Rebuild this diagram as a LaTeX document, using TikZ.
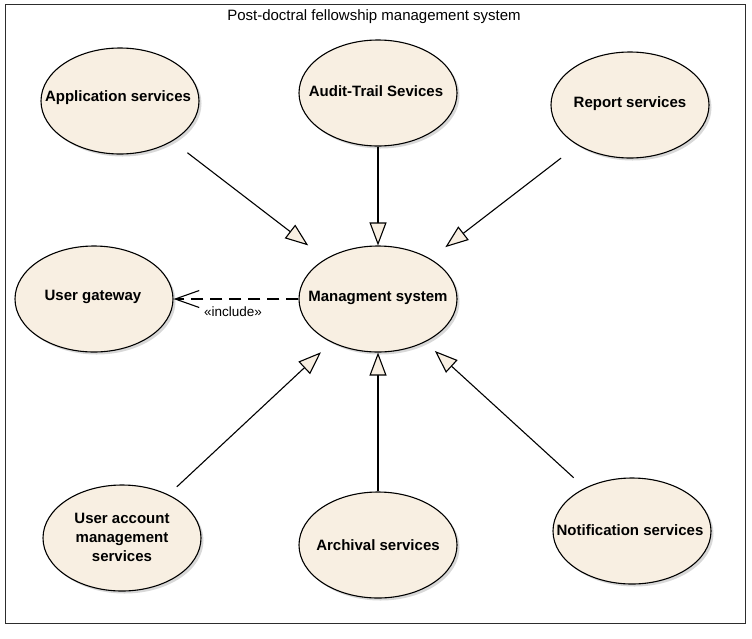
\documentclass[tikz,border=0pt]{standalone}
\usepackage{fontspec}
\setmainfont{Liberation Sans}
\usetikzlibrary{arrows.meta,shapes.geometric,calc,shadows}
\definecolor{ucfill}{RGB}{248,239,226}
\definecolor{framecol}{RGB}{45,45,45}
\begin{document}
\begin{tikzpicture}[x=1pt,y=-1pt,
  uc/.style={ellipse,draw=black,line width=1.1pt,fill=ucfill,minimum width=158pt,minimum height=106pt,inner sep=0pt,
    drop shadow={shadow xshift=2.5pt,shadow yshift=-2.5pt,fill=black!30}},
  uctext/.style={font=\fontsize{15}{19}\selectfont\bfseries,align=center,inner sep=0pt},
  gen/.style={line width=1.1pt,-{Triangle[length=23pt,width=17pt,fill=ucfill,line width=1.1pt]}},
  incl/.style={line width=1.1pt,dash pattern=on 12pt off 7pt,-{Straight Barb[length=24pt,width=17pt,line width=1.1pt]}},
  plaintext/.style={inner sep=0pt}]
\useasboundingbox (0,0) rectangle (752,638);
\fill[white] (0,0) rectangle (752,638);
% system frame
\node[draw=framecol,line width=1.3pt,minimum width=740pt,minimum height=619pt,anchor=north west,inner sep=0pt] (sys) at (5,4) {};
\node[plaintext,font=\fontsize{15}{17}\selectfont] (title) at (374,17) {Post-doctral fellowship management system};
% use cases
\node[uc] (app) at (120,101) {};
\node[uc] (audit) at (378,93) {};
\node[uc] (report) at (630,105) {};
\node[uc] (gw) at (94,299) {};
\node[uc] (mgmt) at (378,299) {};
\node[uc] (uam) at (122,538) {};
\node[uc] (arch) at (378,545) {};
\node[uc] (notif) at (632,531) {};
\node[uctext] (app-t) at (118,98) {Application services};
\node[uctext] (audit-t) at (376,91) {Audit-Trail Sevices};
\node[uctext] (report-t) at (630,104) {Report services};
\node[uctext] (gw-t) at (93,297) {User gateway};
\node[uctext] (mgmt-t) at (378,298) {Managment system};
\node[uctext] (uam-t) at (122,537) {User account\\management\\services};
\node[uctext] (arch-t) at (378,545) {Archival services};
\node[uctext] (notif-t) at (630,530) {Notification services};
% generalizations
\draw[gen] ($(app)!85pt!(mgmt)$) -- ($(mgmt)!88pt!(app)$);
\draw[gen] (audit.south) -- (mgmt.north);
\draw[gen] ($(report)!87pt!(mgmt)$) -- ($(mgmt)!85pt!(report)$);
\draw[gen] ($(uam)!75pt!(mgmt)$) -- ($(mgmt)!78pt!(uam)$);
\draw[gen] (arch.north) -- (mgmt.south);
\draw[gen] ($(notif)!79pt!(mgmt)$) -- ($(mgmt)!77pt!(notif)$);
% include
\draw[incl] (mgmt.west) -- (gw.east);
\node[plaintext,font=\fontsize{13.5}{15}\selectfont] (incl-lbl) at (233,312) {«include»};
\end{tikzpicture}
\end{document}
